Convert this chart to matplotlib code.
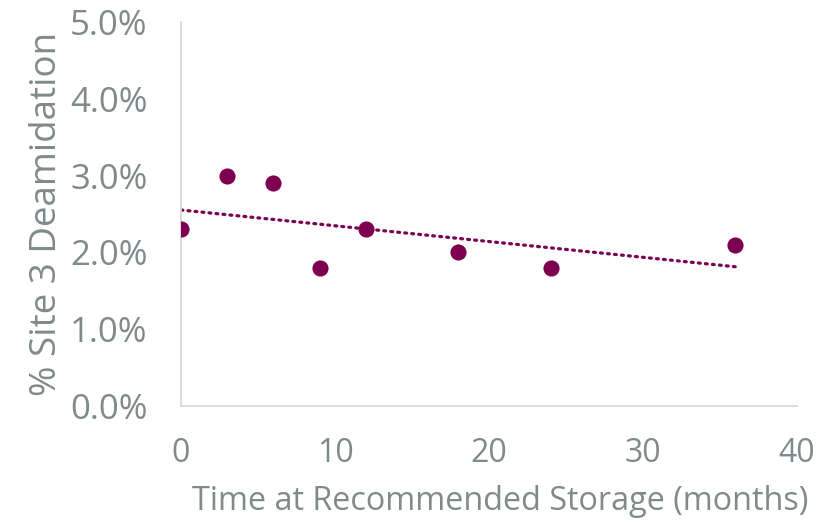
import matplotlib
matplotlib.use("Agg")
import matplotlib.pyplot as plt
import numpy as np
from matplotlib.ticker import FuncFormatter

months = [0, 3, 6, 9, 12, 18, 24, 36]
deamidation = [2.3, 3.0, 2.9, 1.8, 2.3, 2.0, 1.8, 2.1]
x_ticks = [0, 10, 20, 30, 40]
y_ticks = [0.0, 1.0, 2.0, 3.0, 4.0, 5.0]

txt = "#7F8A8A"
pt_color = "#7D0050"
plt.rcParams['font.family'] = ['Open Sans', 'DejaVu Sans']

fig = plt.figure(figsize=(8.29, 5.26), dpi=100)
ax = fig.add_axes([181/829, 1-406/526, (797-181)/829, (406-22)/526])

ax.scatter(months, deamidation, s=135, color=pt_color, zorder=3, linewidths=0)
coef = np.polyfit(months, deamidation, 1)
xt = np.array([min(months), max(months)])
ax.plot(xt, np.polyval(coef, xt), color=pt_color, lw=2.3, linestyle=(0, (0.6, 1.6)),
        dash_capstyle='round', zorder=2)

ax.set_xlim(0, 40)
ax.set_ylim(0, 5)
ax.set_xticks(x_ticks)
ax.set_yticks(y_ticks)
ax.yaxis.set_major_formatter(FuncFormatter(lambda v, p: f"{v:.1f}%"))
ax.tick_params(length=0, colors=txt)
ax.tick_params(axis='y', pad=24, labelsize=25)
ax.tick_params(axis='x', pad=22, labelsize=23)
for s in ['top', 'right']:
    ax.spines[s].set_visible(False)
for s in ['left', 'bottom']:
    ax.spines[s].set_color('#D9D9D9')
    ax.spines[s].set_linewidth(1.3)

ax.set_xlabel("Time at Recommended Storage (months)", fontsize=23.3, color=txt)
ax.xaxis.set_label_coords((500-181)/616, -0.205)
ax.set_ylabel("% Site 3 Deamidation", fontsize=26.5, color=txt, labelpad=4)

fig.savefig("out.png", dpi=100)
